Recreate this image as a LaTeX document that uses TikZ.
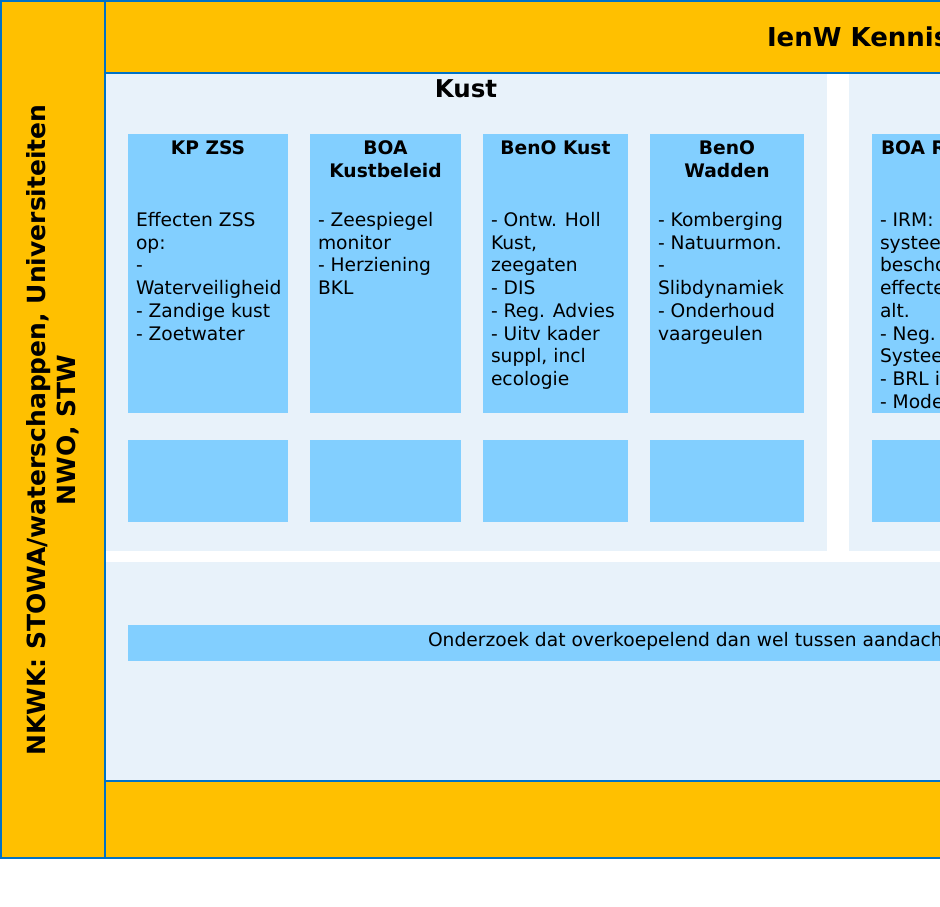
\documentclass[tikz,border=0pt]{standalone}
\usepackage{fontspec}
\setmainfont{DejaVu Sans}
\definecolor{orng}{RGB}{255,192,0}
\definecolor{bordblue}{RGB}{0,114,198}
\definecolor{panelbg}{RGB}{232,242,250}
\definecolor{cardblue}{RGB}{130,207,255}
\newcommand\fl{\rule{0pt}{15pt}}
\begin{document}
\begin{tikzpicture}[x=1pt,y=-1pt,
  every node/.style={inner sep=0pt, outer sep=0pt},
  band/.style={fill=orng, draw=none},
  panel/.style={fill=panelbg, draw=none},
  card/.style={fill=cardblue, draw=none, anchor=north west},
  bodytxt/.style={anchor=north west, align=left, font=\fontsize{18.67}{22.7}\selectfont},
  titletxt/.style={anchor=north, align=center, font=\bfseries\fontsize{18.67}{22.7}\selectfont},
  bordline/.style={draw=bordblue, line width=2pt}
]
\useasboundingbox (0,0) rectangle (940,907);
\fill[white] (0,0) rectangle (940,907);
% bands
\fill[band] (1,1) rectangle (105,858);
\fill[band] (105,1) rectangle (960,73);
\fill[band] (105,781) rectangle (960,858);
% panels
\fill[panel] (106,74) rectangle (827,551);
\fill[panel] (849,74) rectangle (960,551);
\fill[panel] (106,562) rectangle (960,781);
% upper cards
\node[card, minimum width=160pt, minimum height=279pt] (c1) at (128,134) {};
\node[card, minimum width=151pt, minimum height=279pt] (c2) at (310,134) {};
\node[card, minimum width=145pt, minimum height=279pt] (c3) at (483,134) {};
\node[card, minimum width=154pt, minimum height=279pt] (c4) at (650,134) {};
\node[card, minimum width=90pt, minimum height=279pt] (c5) at (872,134) {};
% lower cards
\node[card, minimum width=160pt, minimum height=82pt] (d1) at (128,440) {};
\node[card, minimum width=151pt, minimum height=82pt] (d2) at (310,440) {};
\node[card, minimum width=145pt, minimum height=82pt] (d3) at (483,440) {};
\node[card, minimum width=154pt, minimum height=82pt] (d4) at (650,440) {};
\node[card, minimum width=90pt, minimum height=82pt] (d5) at (872,440) {};
% bar
\node[card, minimum width=830pt, minimum height=36pt] (bar) at (128,625) {};
% borders
\draw[bordline] (1,1) rectangle (980,858);
\draw[bordline] (105,1) -- (105,858);
\draw[bordline] (105,73) -- (980,73);
\draw[bordline] (105,781) -- (980,781);
% texts
\node[anchor=base west, font=\bfseries\fontsize{26}{31}\selectfont] (ienw) at (767,47) {IenW Kennis};
\node[anchor=base, font=\bfseries\fontsize{24.5}{29}\selectfont] (kust) at (466,98) {Kust};
\node[rotate=90, align=center, font=\bfseries\fontsize{25}{30}\selectfont] (nkwk) at (53,430)
  {NKWK: STOWA/waterschappen, Universiteiten\\NWO, STW};
\node[titletxt] (t1) at (208,139.5) {\fl KP ZSS};
\node[titletxt] (t2) at (385.5,139.5) {\fl BOA\\Kustbeleid};
\node[titletxt] (t3) at (555.5,139.5) {\fl BenO Kust};
\node[titletxt] (t4) at (727,139.5) {\fl BenO\\Wadden};
\node[anchor=north west, align=left, font=\bfseries\fontsize{18.67}{22.7}\selectfont] (t5) at (881,139.5) {\fl BOA R};
\node[bodytxt] (b1) at (136,211.5) {\fl Effecten ZSS\\op:\\-\\Waterveiligheid\\- Zandige kust\\- Zoetwater};
\node[bodytxt] (b2) at (318,211.5) {\fl - Zeespiegel\\monitor\\- Herziening\\BKL};
\node[bodytxt] (b3) at (491,211.5) {\fl - Ontw. Holl\\Kust,\\zeegaten\\- DIS\\- Reg. Advies\\- Uitv kader\\suppl, incl\\ecologie};
\node[bodytxt] (b4) at (658,211.5) {\fl - Komberging\\- Natuurmon.\\-\\Slibdynamiek\\- Onderhoud\\vaargeulen};
\node[bodytxt] (b5) at (880,211.5) {\fl - IRM:\\systee\\bescho\\effecte\\alt.\\- Neg.\\Systee\\- BRL i\\- Mode};
\node[anchor=base west, font=\fontsize{18.67}{22.7}\selectfont] (onderzoek) at (428,646) {Onderzoek dat overkoepelend dan wel tussen aandach};
\end{tikzpicture}
\end{document}
